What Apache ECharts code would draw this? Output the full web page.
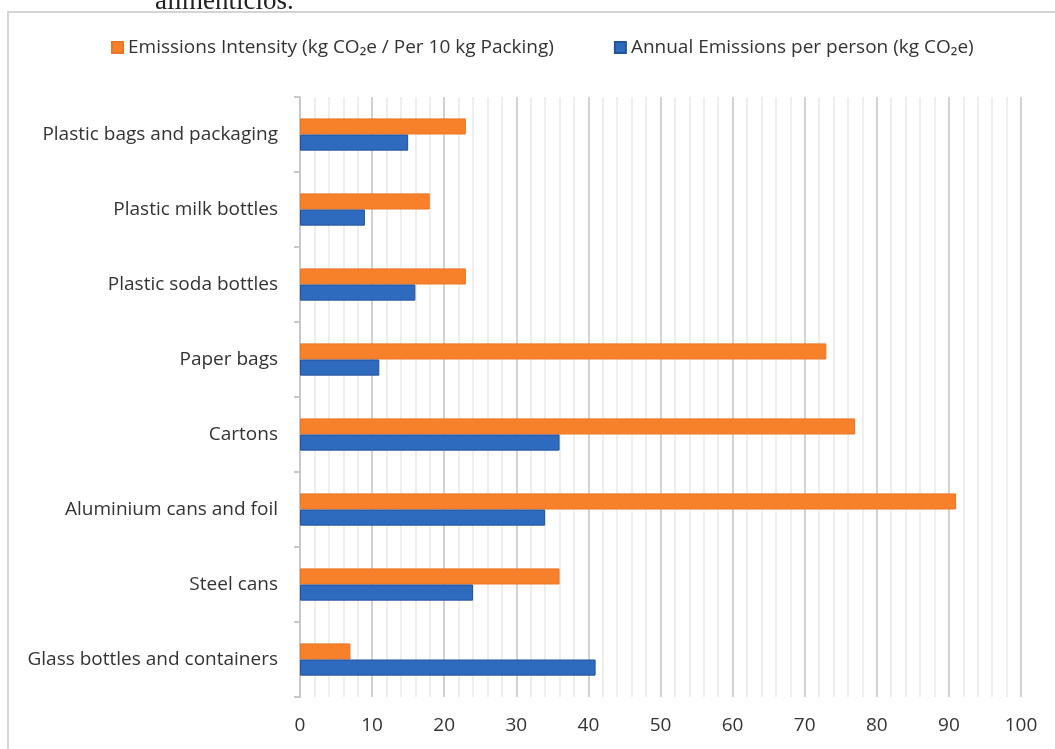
<!DOCTYPE html>
<html>
<head>
<meta charset="utf-8">
<script src="https://cdn.jsdelivr.net/npm/echarts@6/dist/echarts.min.js"></script>
<style>
  html, body { margin: 0; padding: 0; background: #fff; }
  #chartmain { width: 1055px; height: 749px; }
</style>
</head>
<body>
<div id="chartmain"></div>
<script>
// categories, bottom to top
var categories = ['Glass bottles and containers', 'Steel cans', 'Aluminium cans and foil', 'Cartons',
  'Paper bags', 'Plastic soda bottles', 'Plastic milk bottles', 'Plastic bags and packaging'];
var intensity = [7, 36, 91, 77, 73, 23, 18, 23];
var annual = [41, 24, 34, 36, 11, 16, 9, 15];
var intensityName = 'Emissions Intensity (kg CO\u2082e / Per 10 kg Packing)';
var annualName = 'Annual Emissions per person (kg CO\u2082e)';

var font = '"Open Sans", sans-serif';

var option = {
  animation: false,
  textStyle: { fontFamily: font },
  graphic: [
    {
      type: 'rect',
      shape: { x: 8, y: 12, width: 1060, height: 760 },
      style: { fill: '#fff', stroke: '#d4d4d4', lineWidth: 2 },
      z: -10
    },
    {
      type: 'text',
      left: 155, top: -12,
      style: { text: 'alimenticios.', font: '27px "Liberation Serif", serif', fill: '#222' }
    }
  ],
  legend: {
    top: 33,
    left: 106,
    itemWidth: 11,
    itemHeight: 11,
    itemGap: 60,
    icon: 'rect',
    data: [intensityName, annualName],
    textStyle: { fontSize: 19, color: '#333', fontFamily: font }
  },
  grid: { left: 300, right: 34, top: 97, bottom: 52 },
  xAxis: {
    type: 'value',
    min: 0, max: 100, interval: 10,
    axisLine: { show: false },
    axisTick: { show: false },
    axisLabel: { fontSize: 19, color: '#333', margin: 19, fontFamily: font },
    splitLine: { show: true, lineStyle: { color: '#d2d2d2', width: 2 } },
    minorTick: { show: false, splitNumber: 5 },
    minorSplitLine: { show: true, lineStyle: { color: '#eeeeee', width: 2 } }
  },
  yAxis: {
    type: 'category',
    data: categories,
    axisLine: { show: true, lineStyle: { color: '#c8c8c8', width: 2 } },
    axisTick: { show: true, length: 6, lineStyle: { color: '#c8c8c8', width: 2 } },
    axisLabel: { fontSize: 19, color: '#333', margin: 22, fontFamily: font }
  },
  series: [
    {
      name: intensityName,
      type: 'bar',
      data: intensity,
      barGap: '0%',
      barCategoryGap: '57%',
      itemStyle: { color: '#f7812a', borderColor: '#e8762a', borderWidth: 1 }
    },
    {
      name: annualName,
      type: 'bar',
      data: annual,
      barGap: '0%',
      barCategoryGap: '57%',
      itemStyle: { color: '#2e6bbf', borderColor: '#23539a', borderWidth: 1 }
    }
  ]
};

var myChart = echarts.init(document.getElementById('chartmain'));
myChart.setOption(option);
</script>
</body>
</html>
